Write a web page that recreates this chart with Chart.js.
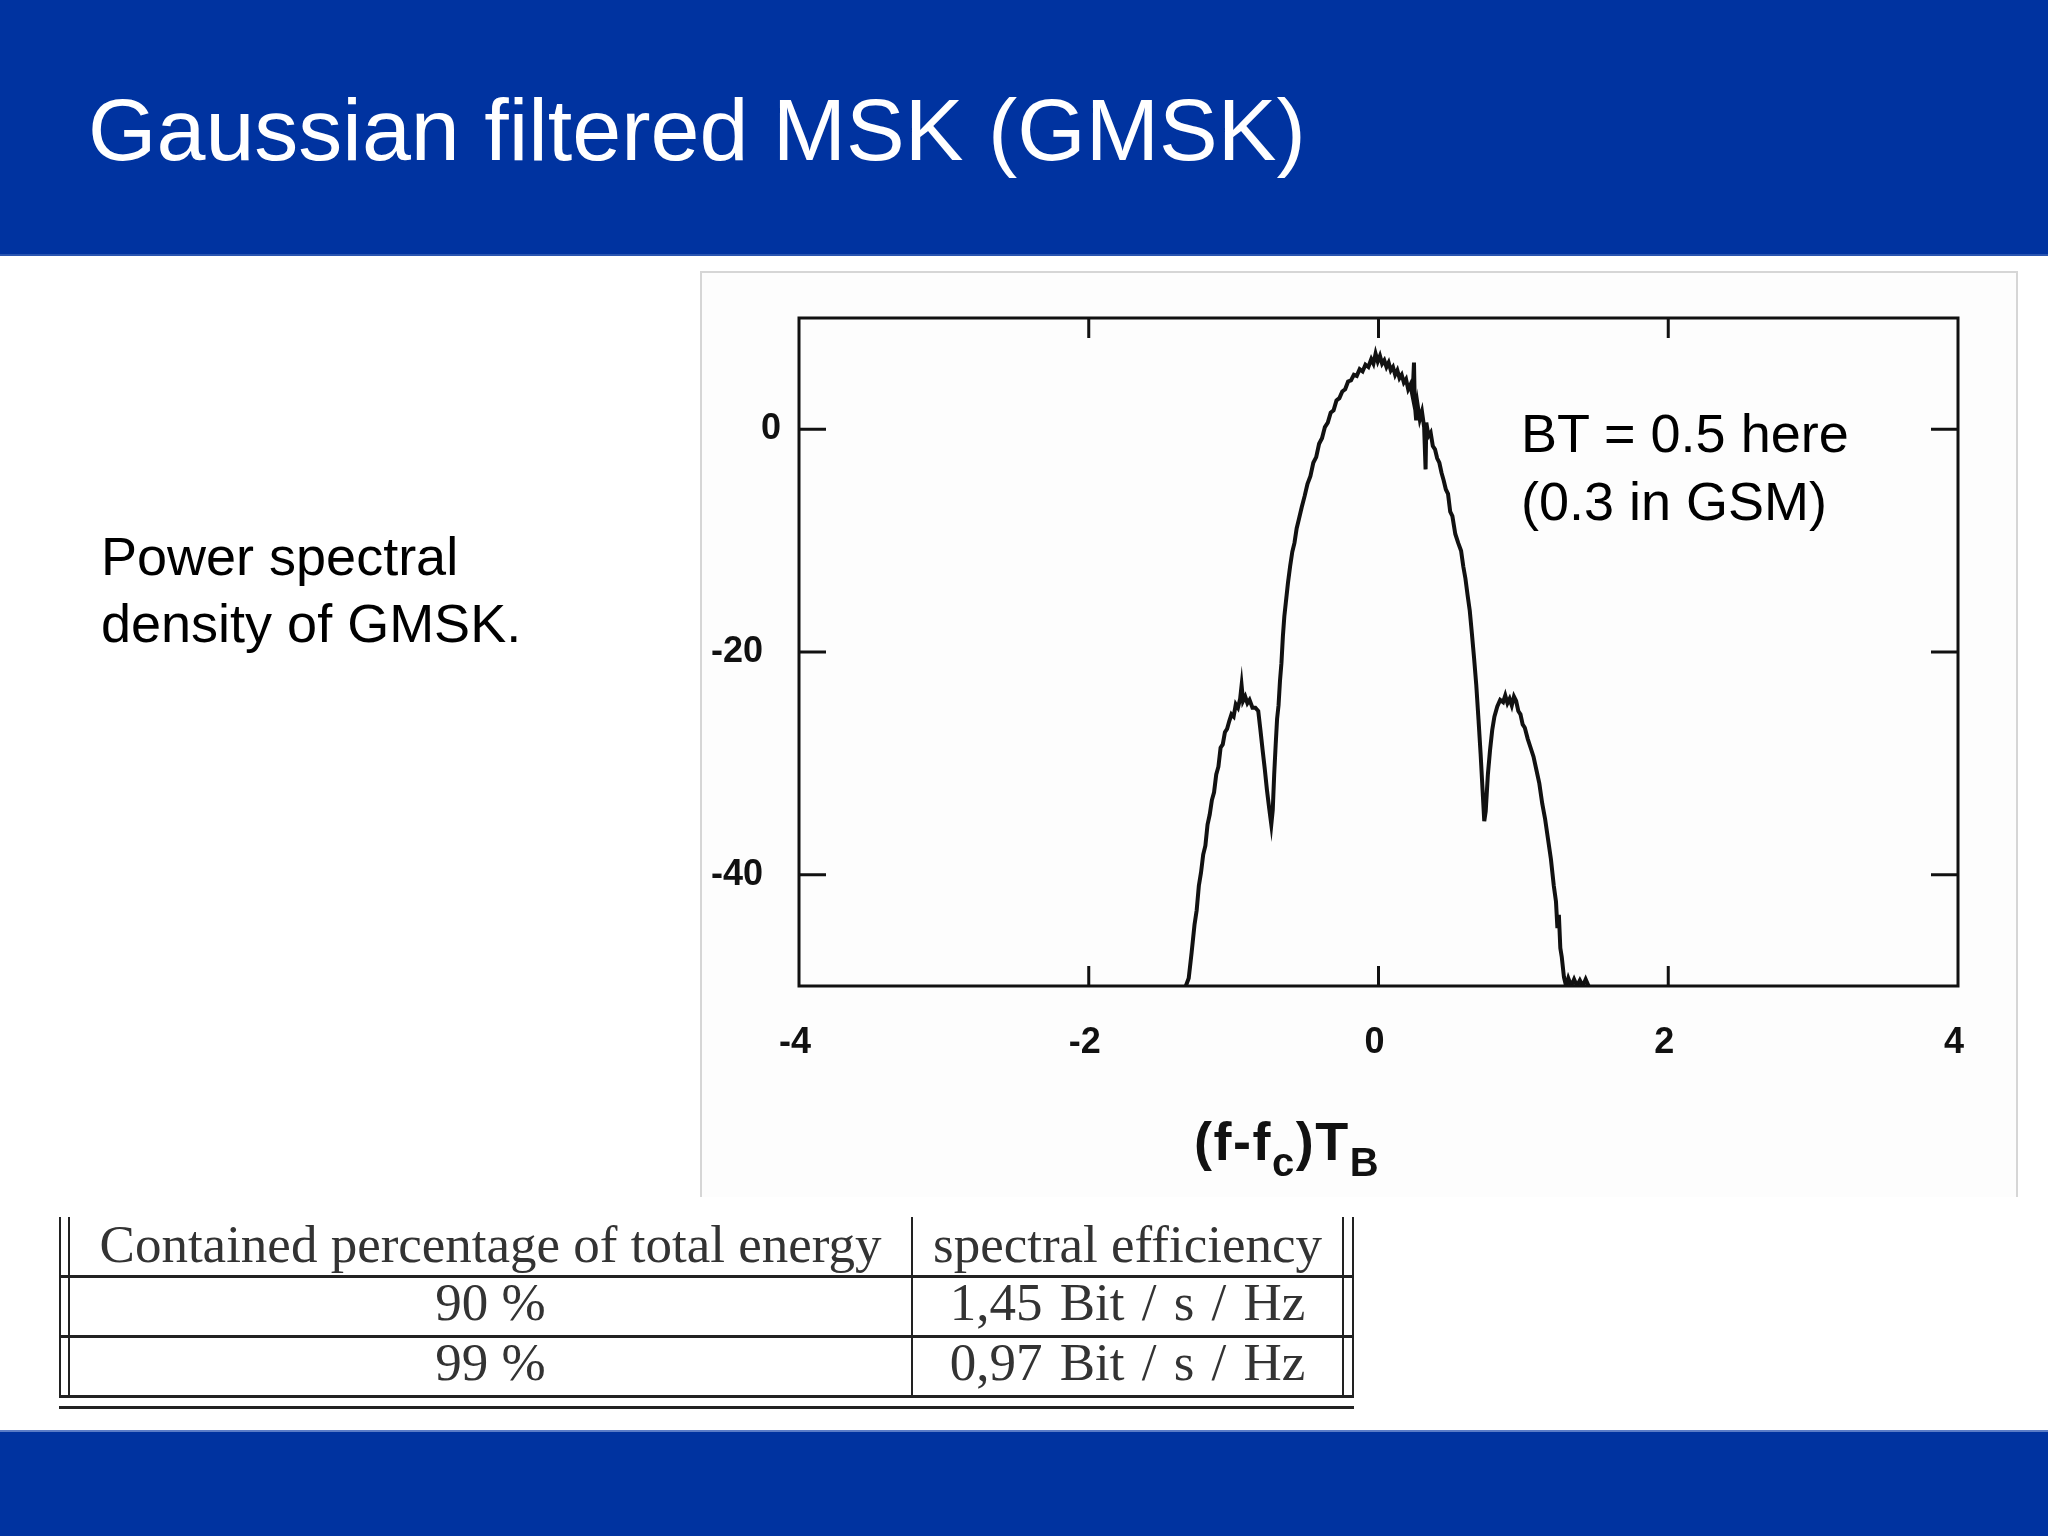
<!DOCTYPE html>
<html>
<head>
<meta charset="utf-8">
<title>Gaussian filtered MSK (GMSK)</title>
<script src="https://cdn.jsdelivr.net/npm/chart.js@4.4.1/dist/chart.umd.min.js"></script>
<style>
  html, body { margin: 0; padding: 0; }
  body {
    width: 2048px; height: 1536px; position: relative; overflow: hidden;
    background: #ffffff; font-family: "Liberation Sans", Arial, sans-serif;
  }
  .bar { position: absolute; left: 0; width: 2048px; background: #0033a0; }
  .header { top: 0; height: 254px; border-bottom: 2px solid #2a55b0; }
  .footer { top: 1430px; height: 106px; border-top: 2px solid #5a7cc6; }
  .title {
    position: absolute; left: 88px; top: 86px; font-size: 88px; line-height: 88px;
    color: #ffffff; white-space: nowrap;
  }
  .side-text {
    position: absolute; left: 101px; top: 523px; font-size: 54px; line-height: 67px; color: #000;
  }
  .frame {
    position: absolute; left: 700px; top: 271px; width: 1314px; height: 924px;
    border-left: 2px solid #d6d6d6; border-top: 2px solid #d6d6d6; border-right: 2px solid #d6d6d6;
    background: #fdfdfd;
  }
  #chart { position: absolute; left: 700px; top: 272px; }
  .note {
    position: absolute; left: 1521px; top: 399px; font-size: 54px; line-height: 68px; color: #000;
  }
  .axis-title {
    position: absolute; left: 1194px; top: 1114px; font-size: 54px; line-height: 54px;
    font-weight: bold; color: #111; white-space: nowrap; letter-spacing: 1.5px;
  }
  .axis-title span { font-size: 40px; vertical-align: -16px; line-height: 0; }
  .rule { position: absolute; background: #222; }
  .cell {
    position: absolute; text-align: center; font-family: "Liberation Serif", "Times New Roman", serif;
    font-size: 53px; line-height: 53px; color: #333; white-space: nowrap;
  }
  .wide { word-spacing: 4px; }
</style>
</head>
<body>
<div class="bar header"></div>
<div class="title">Gaussian filtered MSK (GMSK)</div>

<div class="side-text">Power spectral<br>density of GMSK.</div>

<div class="frame"></div>
<canvas id="chart" width="1316" height="920" style="width:1316px;height:920px;"></canvas>
<div class="note">BT = 0.5 here<br>(0.3 in GSM)</div>
<div class="axis-title">(f-f<span>c</span>)T<span>B</span></div>

<!-- energy / spectral efficiency table -->
<div class="rule" style="left:59px;top:1217px;width:2px;height:181px;"></div>
<div class="rule" style="left:68px;top:1217px;width:2px;height:181px;"></div>
<div class="rule" style="left:911px;top:1217px;width:2px;height:181px;"></div>
<div class="rule" style="left:1342px;top:1217px;width:2px;height:181px;"></div>
<div class="rule" style="left:1352px;top:1217px;width:2px;height:181px;"></div>
<div class="rule" style="left:59px;top:1275px;width:1295px;height:3px;"></div>
<div class="rule" style="left:59px;top:1335px;width:1295px;height:3px;"></div>
<div class="rule" style="left:59px;top:1395px;width:1295px;height:3px;"></div>
<div class="rule" style="left:59px;top:1406px;width:1295px;height:3px;"></div>
<div class="cell" style="left:70px;width:841px;top:1218px;">Contained percentage of total energy</div>
<div class="cell" style="left:913px;width:429px;top:1218px;">spectral efficiency</div>
<div class="cell" style="left:70px;width:841px;top:1276px;">90 %</div>
<div class="cell wide" style="left:913px;width:429px;top:1276px;">1,45 Bit / s / Hz</div>
<div class="cell" style="left:70px;width:841px;top:1336px;">99 %</div>
<div class="cell wide" style="left:913px;width:429px;top:1336px;">0,97 Bit / s / Hz</div>

<div class="bar footer"></div>

<script>
// normalised frequency offset (f-fc)TB
const freqOffset = [
  -1.330, -1.310, -1.290, -1.270, -1.255, -1.240, -1.225, -1.210, -1.195, -1.180,
  -1.165, -1.150, -1.135, -1.120, -1.105, -1.090, -1.075, -1.060, -1.045, -1.030,
  -1.015, -1.000, -0.985, -0.970, -0.955, -0.945, -0.935, -0.920, -0.905, -0.890,
  -0.870, -0.850, -0.830, -0.815, -0.800, -0.785, -0.770, -0.755, -0.740, -0.730,
  -0.720, -0.710, -0.700, -0.690, -0.680, -0.670, -0.660, -0.650, -0.640, -0.625,
  -0.610, -0.595, -0.580, -0.565, -0.550, -0.530, -0.510, -0.490, -0.470, -0.450,
  -0.430, -0.410, -0.390, -0.370, -0.350, -0.330, -0.310, -0.290, -0.270, -0.250,
  -0.230, -0.210, -0.190, -0.170, -0.150, -0.130, -0.110, -0.090, -0.070, -0.050,
  -0.035, -0.020, -0.005, 0.010, 0.025, 0.040, 0.055, 0.070, 0.085, 0.100,
  0.115, 0.130, 0.145, 0.160, 0.175, 0.190, 0.205, 0.220, 0.235, 0.245,
  0.250, 0.260, 0.270, 0.285, 0.300, 0.315, 0.325, 0.330, 0.345, 0.360,
  0.375, 0.390, 0.405, 0.420, 0.435, 0.450, 0.465, 0.480, 0.495, 0.510,
  0.530, 0.550, 0.570, 0.585, 0.600, 0.615, 0.630, 0.645, 0.660, 0.675,
  0.690, 0.705, 0.720, 0.730, 0.740, 0.755, 0.770, 0.785, 0.800, 0.820,
  0.840, 0.860, 0.875, 0.890, 0.905, 0.920, 0.935, 0.950, 0.965, 0.980,
  0.995, 1.010, 1.030, 1.050, 1.070, 1.090, 1.110, 1.130, 1.150, 1.170,
  1.190, 1.210, 1.225, 1.235, 1.245, 1.255, 1.265, 1.280, 1.295, 1.310,
  1.330, 1.350, 1.370, 1.390, 1.410, 1.430, 1.450
];

// power spectral density in dB
const psdDb = [
  -50.0, -49.3, -47.0, -44.5, -43.2, -41.0, -39.8, -38.2, -37.4, -35.5,
  -34.6, -33.3, -32.6, -31.0, -30.3, -28.6, -28.3, -27.2, -26.9, -26.2,
  -25.6, -25.8, -24.7, -25.0, -24.2, -23.0, -24.4, -24.0, -24.6, -24.3,
  -25.0, -25.0, -25.3, -27.0, -28.8, -30.5, -32.4, -34.0, -35.5, -34.2,
  -31.0, -28.4, -26.0, -24.8, -22.6, -21.0, -18.6, -16.8, -15.6, -13.8,
  -12.3, -11.0, -10.2, -8.9, -8.1, -7.0, -6.0, -4.9, -4.2, -3.0,
  -2.5, -1.3, -0.8, 0.2, 0.6, 1.5, 1.7, 2.6, 2.8, 3.4,
  3.6, 4.3, 4.4, 4.9, 4.8, 5.4, 5.2, 5.8, 5.6, 6.3,
  5.9, 6.8, 6.1, 6.6, 5.9, 6.2, 5.6, 6.0, 5.3, 5.6,
  4.9, 5.3, 4.6, 4.9, 4.2, 4.5, 3.6, 4.0, 3.0, 6.0,
  2.4, 0.8, 2.2, 0.9, 1.6, 0.2, -3.6, 0.6, -0.6, -0.3,
  -1.5, -1.8, -2.6, -3.0, -3.9, -4.6, -5.4, -5.8, -7.4, -7.8,
  -9.4, -10.2, -10.9, -12.3, -13.4, -14.9, -16.3, -18.4, -20.6, -23.0,
  -26.0, -29.2, -32.8, -35.2, -34.3, -31.0, -28.8, -27.0, -25.8, -24.9,
  -24.3, -24.5, -23.9, -24.6, -24.2, -24.8, -24.0, -24.4, -25.3, -25.6,
  -26.5, -26.8, -27.8, -28.6, -29.4, -30.6, -31.8, -33.6, -35.0, -36.8,
  -38.6, -41.0, -42.4, -44.8, -43.6, -46.6, -47.4, -49.2, -50.0, -49.3,
  -50.0, -49.4, -50.0, -49.5, -50.0, -49.4, -50.0
];

const xTicks = [-4, -2, 0, 2, 4];
const yTicks = [-40, -20, 0];
const xInnerTicks = [-2, 0, 2];

// box around the plot with inward ticks on all four sides
const frameTicks = {
  id: 'frameTicks',
  afterDatasetsDraw(chart) {
    const { ctx, chartArea: a, scales } = chart;
    ctx.save();
    ctx.strokeStyle = '#111';
    ctx.lineWidth = 3;
    ctx.strokeRect(a.left, a.top, a.right - a.left, a.bottom - a.top);
    ctx.beginPath();
    xInnerTicks.forEach(v => {
      const px = scales.x.getPixelForValue(v);
      ctx.moveTo(px, a.bottom); ctx.lineTo(px, a.bottom - 20);
      ctx.moveTo(px, a.top); ctx.lineTo(px, a.top + 20);
    });
    yTicks.forEach(v => {
      const py = scales.y.getPixelForValue(v);
      ctx.moveTo(a.left, py); ctx.lineTo(a.left + 27, py);
      ctx.moveTo(a.right, py); ctx.lineTo(a.right - 27, py);
    });
    ctx.stroke();
    ctx.restore();
  }
};

const tickFont = { family: '"Liberation Sans", Arial, sans-serif', size: 36, weight: 'bold' };

new Chart(document.getElementById('chart'), {
  type: 'line',
  data: {
    datasets: [{
      data: freqOffset.map((f, i) => ({ x: f, y: psdDb[i] })),
      borderColor: '#111',
      borderWidth: 4,
      pointRadius: 0,
      tension: 0,
      fill: false
    }]
  },
  options: {
    responsive: false,
    animation: false,
    devicePixelRatio: 1,
    layout: { padding: { left: 0, top: 46, right: 58, bottom: 0 } },
    plugins: {
      legend: { display: false },
      tooltip: { enabled: false }
    },
    scales: {
      x: {
        type: 'linear',
        min: -4,
        max: 4,
        afterBuildTicks: s => { s.ticks = xTicks.map(v => ({ value: v })); },
        afterFit: s => { s.height = 206; },
        grid: { display: false },
        border: { display: false },
        ticks: { font: tickFont, color: '#111', padding: 27, labelOffset: -4, maxRotation: 0 }
      },
      y: {
        type: 'linear',
        min: -50,
        max: 10,
        afterBuildTicks: s => { s.ticks = yTicks.map(v => ({ value: v })); },
        afterFit: s => { s.width = 99; },
        grid: { display: false },
        border: { display: false },
        ticks: {
          font: tickFont, color: '#111', padding: 10,
          callback: v => (v < 0 ? v + '\u2002' : String(v))
        }
      }
    }
  },
  plugins: [frameTicks]
});
</script>
</body>
</html>
